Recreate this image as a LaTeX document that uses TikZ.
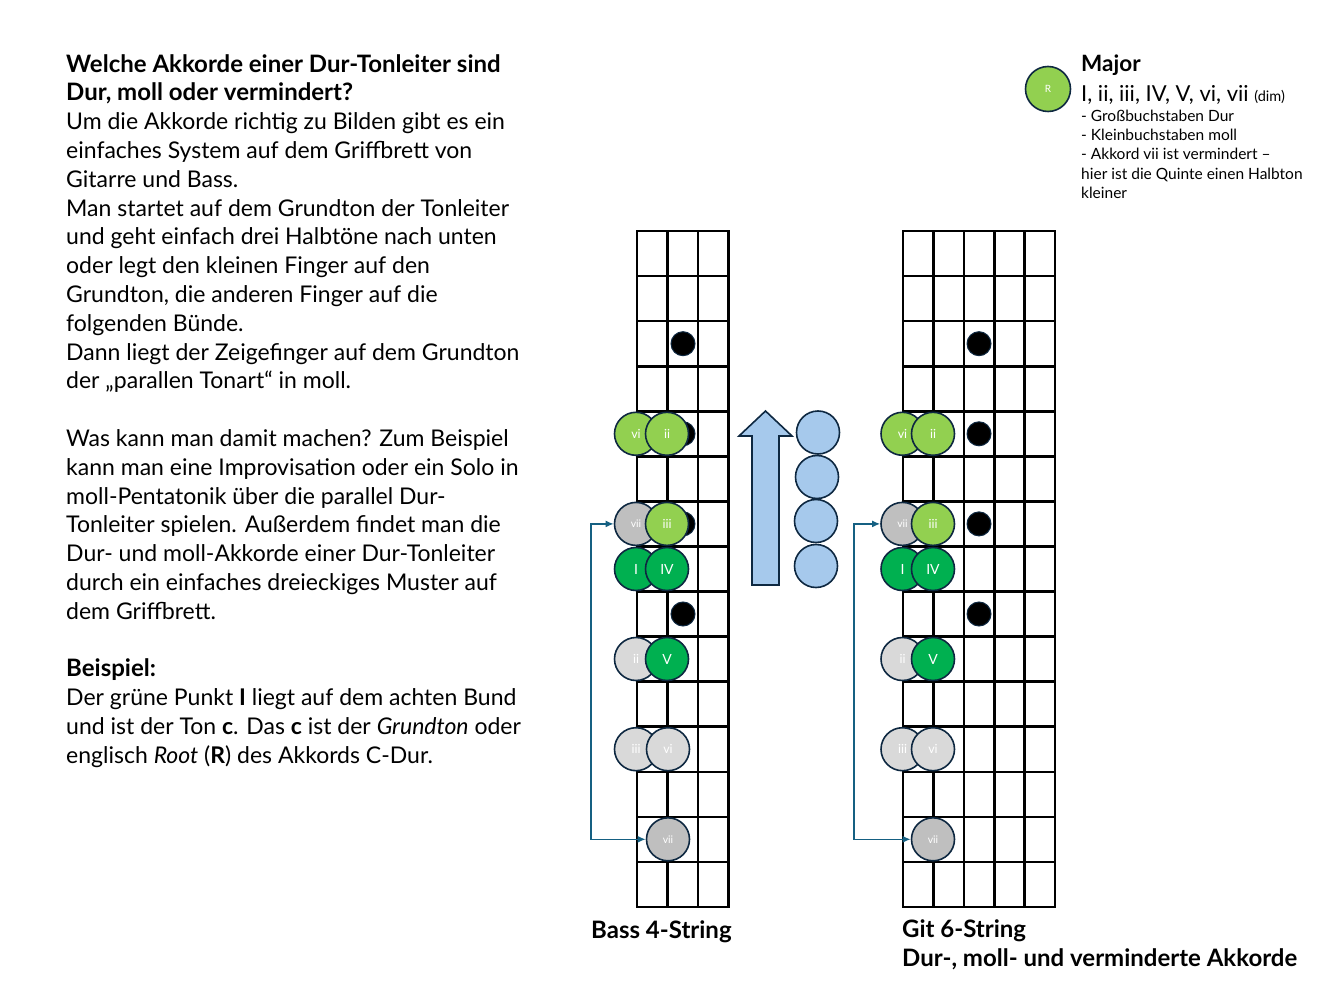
\documentclass[tikz,border=0pt]{standalone}
\usepackage{fontspec}
\setmainfont{Lato}
\usetikzlibrary{arrows.meta}
\definecolor{navy}{HTML}{0E2841}
\definecolor{lgreen}{HTML}{92D050}
\definecolor{dgreen}{HTML}{00B050}
\definecolor{gmid}{HTML}{BFBFBF}
\definecolor{glight}{HTML}{D9D9D9}
\definecolor{lblue}{HTML}{A6C9EC}
\definecolor{conncol}{HTML}{156082}
\newcommand{\hb}[1]{{\bfseries\fontsize{24}{28.8}\selectfont #1}}
\begin{document}
\begin{tikzpicture}[x=1pt,y=-1pt,
  chord/.style={circle, draw=navy, line width=1.6pt, minimum size=43pt, inner sep=0pt, text=white, font=\fontsize{12.5}{12.5}\selectfont},
  lg/.style={chord, fill=lgreen},
  dg/.style={chord, fill=dgreen, font=\fontsize{14}{14}\selectfont},
  mg/.style={chord, fill=gmid, font=\fontsize{10.5}{10.5}\selectfont},
  wg/.style={chord, fill=glight},
  bluedot/.style={circle, draw=navy, line width=1.6pt, fill=lblue, minimum size=43pt, inner sep=0pt},
  fretdot/.style={circle, fill=black, draw=navy, line width=1pt, minimum size=24pt, inner sep=0pt},
  fret/.style={line width=2.6pt, black, line cap=rect},
  conn/.style={draw=conncol, line width=1.6pt, {Latex[length=8pt,width=7pt]}-{Latex[length=8pt,width=7pt]}},
  bodytext/.style={anchor=north west, inner sep=0pt, align=left, font=\fontsize{23}{28.8}\selectfont},
  label/.style={anchor=base west, inner sep=0pt, font=\bfseries\fontsize{24}{24}\selectfont}
]
\fill[white] (0,0) rectangle (1344,1008);
\useasboundingbox (0,0) rectangle (1344,1008);

% main text
\node[bodytext] (maintext) at (66,54) {%
\hb{Welche Akkorde einer Dur-Tonleiter sind}\\
\hb{Dur, moll oder vermindert?}\\
Um die Akkorde richtig zu Bilden gibt es ein\\
einfaches System auf dem Griffbrett von\\
Gitarre und Bass.\\
Man startet auf dem Grundton der Tonleiter\\
und geht einfach drei Halbtöne nach unten\\
oder legt den kleinen Finger auf den\\
Grundton, die anderen Finger auf die\\
folgenden Bünde.\\
Dann liegt der Zeigefinger auf dem Grundton\\
der „parallen Tonart“ in moll.\\[28.8pt]
Was kann man damit machen? Zum Beispiel\\
kann man eine Improvisation oder ein Solo in\\
moll-Pentatonik über die parallel Dur-\\
Tonleiter spielen. Außerdem findet man die\\
Dur- und moll-Akkorde einer Dur-Tonleiter\\
durch ein einfaches dreieckiges Muster auf\\
dem Griffbrett.\\[28.8pt]
\hb{Beispiel:}\\
Der grüne Punkt \textbf{I} liegt auf dem achten Bund\\
und ist der Ton \textbf{c}. Das \textbf{c} ist der \textit{Grundton} oder\\
englisch \textit{Root} (\textbf{R}) des Akkords C-Dur.};

% legend
\node[lg, font=\fontsize{10}{10}\selectfont, minimum size=45pt] (legR) at (1048,89) {R};
\node[anchor=base west, inner sep=0pt, font=\bfseries\fontsize{22.5}{22.5}\selectfont] (legtitle) at (1081,71.5) {Major};
\node[anchor=base west, inner sep=0pt, font=\fontsize{22}{22}\selectfont] (legnum) at (1081,101.5) {I, ii, iii, IV, V, vi, vii {\fontsize{14.5}{14.5}\selectfont(dim)}};
\node[anchor=north west, inner sep=0pt, align=left, font=\fontsize{15.5}{19.3}\selectfont] (leglist) at (1081,109.5) {%
- Großbuchstaben Dur\\
- Kleinbuchstaben moll\\
- Akkord vii ist vermindert –\\
hier ist die Quinte einen Halbton\\
kleiner};

% bass fretboard
\foreach \i in {0,...,3} \draw[fret] (637+\i*30.4, 231) -- (637+\i*30.4, 907);
\foreach \j in {0,...,15} \draw[fret] (637, 231+\j*45.067) -- (728.2, 231+\j*45.067);

% guitar fretboard
\foreach \i in {0,...,5} \draw[fret] (903+\i*30.4, 231) -- (903+\i*30.4, 907);
\foreach \j in {0,...,15} \draw[fret] (903, 231+\j*45.067) -- (1055, 231+\j*45.067);

% fret markers
\foreach \y/\n in {343.7/a, 433.8/b, 523.9/c, 614/d} {
  \node[fretdot] (bdot\n) at (683,\y) {};
  \node[fretdot] (gdot\n) at (979,\y) {};
}

% bass chords
\node[lg] (bvi) at (636,433.8) {vi};
\node[lg] (bii) at (667,433.8) {ii};
\node[mg] (bviiA) at (636,523.9) {vii};
\node[lg] (biii) at (667,523.9) {iii};
\node[dg] (bI) at (636,569) {I};
\node[dg] (bIV) at (667,569) {IV};
\node[wg] (bii2) at (636,659) {ii};
\node[dg] (bV) at (667,659) {V};
\node[wg] (biii2) at (636,749.2) {iii};
\node[wg] (bvi2) at (668,749.2) {vi};
\node[mg] (bviiB) at (668,839.3) {vii};
\draw[conn] (bviiA.west) -- ++(-23,0) |- (bviiB.west);

% guitar chords
\node[lg] (gvi) at (902.5,433.8) {vi};
\node[lg] (gii) at (933,433.8) {ii};
\node[mg] (gviiA) at (902.5,523.9) {vii};
\node[lg] (giii) at (933,523.9) {iii};
\node[dg] (gI) at (902.5,569) {I};
\node[dg] (gIV) at (933,569) {IV};
\node[wg] (gii2) at (902.5,659) {ii};
\node[dg] (gV) at (933,659) {V};
\node[wg] (giii2) at (902.5,749.2) {iii};
\node[wg] (gvi2) at (933,749.2) {vi};
\node[mg] (gviiB) at (933,839.3) {vii};
\draw[conn] (gviiA.west) -- ++(-26,0) |- (gviiB.west);

% big arrow and blue circles
\draw[navy, line width=1.6pt, fill=lblue, line join=miter] (752,585) -- (779,585) -- (779,436) -- (792,436) -- (765.5,411) -- (739,436) -- (752,436) -- cycle;
\node[bluedot] (bc1) at (818,432.5) {};
\node[bluedot] (bc2) at (817,477) {};
\node[bluedot] (bc3) at (816,521) {};
\node[bluedot] (bc4) at (816,566) {};

% labels
\node[label] (basslabel) at (591,938.5) {Bass 4-String};
\node[label] (gitlabel) at (902,937.5) {Git 6-String};
\node[label] (gitlabel2) at (902,966.5) {Dur-, moll- und verminderte Akkorde};
\end{tikzpicture}
\end{document}
